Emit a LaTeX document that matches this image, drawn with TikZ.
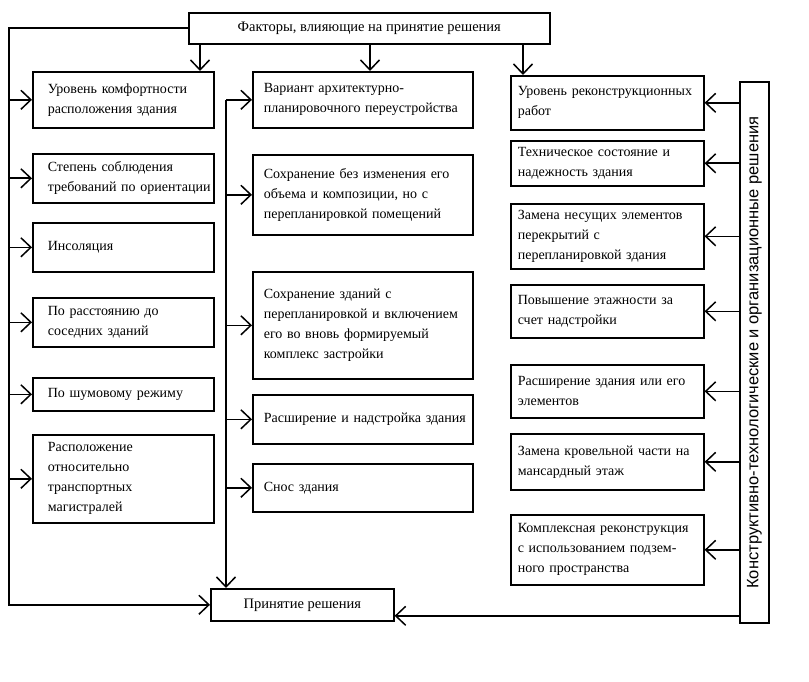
\documentclass[tikz,border=0pt]{standalone}
\usepackage{fontspec}
\setmainfont{Liberation Serif}
\newfontfamily\vsans{Liberation Sans}
\usetikzlibrary{arrows.meta,calc}
\newcommand\lbx[1]{\mbox{#1}}
\begin{document}
\begin{tikzpicture}[x=1pt,y=-1pt,line width=1.6pt,
  arr/.style={line width=1.6pt,-{Straight Barb[length=10pt,width=19pt,line width=1.5pt]}},
  box/.style={draw,line width=1.6pt,anchor=north west,align=left,
    font=\fontsize{14}{20}\selectfont,inner ysep=0pt},
  lbox/.style={box,minimum width=181pt,inner xsep=15pt,text width=151pt},
  mbox/.style={box,minimum width=220pt,inner xsep=11pt,text width=198pt},
  rbox/.style={box,minimum width=193pt,inner xsep=7pt,text width=179pt}]
\useasboundingbox (0,0) rectangle (809,682);
% top and bottom
\node[draw,line width=1.6pt,anchor=north west,minimum width=361pt,minimum height=31pt,
  font=\fontsize{14.5}{20}\selectfont] (top) at (188,12) {Факторы, влияющие на принятие решения};
\node[draw,line width=1.6pt,anchor=north west,minimum width=183pt,minimum height=32pt,
  font=\fontsize{14.5}{20}\selectfont] (dec) at (210,588) {Принятие решения};
\node[draw,line width=1.6pt,rotate=90,minimum width=541pt,minimum height=29pt,inner sep=0pt,
  font=\vsans\fontsize{16.5}{18}\selectfont] (vert) at (754.5,352.5) {Конструктивно-технологические и организационные решения};
% left column
\node[lbox,minimum height=56pt] (l1) at (32,71) {\lbx{Уровень комфортности}\\\lbx{расположения здания}};
\node[lbox,minimum height=49pt] (l2) at (32,153) {\lbx{Степень соблюдения}\\\lbx{требований по ориентации}};
\node[lbox,minimum height=49pt] (l3) at (32,222) {\lbx{Инсоляция}};
\node[lbox,minimum height=49pt] (l4) at (32,297) {\lbx{По расстоянию до}\\\lbx{соседних зданий}};
\node[lbox,minimum height=33pt] (l5) at (32,377) {\lbx{По шумовому режиму}};
\node[lbox,minimum height=88pt] (l6) at (32,434) {\lbx{Расположение}\\\lbx{относительно}\\\lbx{транспортных}\\\lbx{магистралей}};
% middle column
\node[mbox,minimum height=56pt] (m1) at (252,71) {\lbx{Вариант архитектурно-}\\\lbx{планировочного переустройства}};
\node[mbox,minimum height=80pt] (m2) at (252,154) {\lbx{Сохранение без изменения его}\\\lbx{объема и композиции, но с}\\\lbx{перепланировкой помещений}};
\node[mbox,minimum height=107pt] (m3) at (252,271) {\lbx{Сохранение зданий с}\\\lbx{перепланировкой и включением}\\\lbx{его во вновь формируемый}\\\lbx{комплекс застройки}};
\node[mbox,minimum height=49pt] (m4) at (252,394) {\lbx{Расширение и надстройка здания}};
\node[mbox,minimum height=48pt] (m5) at (252,463) {\lbx{Снос здания}};
% right column
\node[rbox,minimum height=54pt] (r1) at (510,75) {\lbx{Уровень реконструкционных}\\\lbx{работ}};
\node[rbox,minimum height=45pt] (r2) at (510,140) {\lbx{Техническое состояние и}\\\lbx{надежность здания}};
\node[rbox,minimum height=65pt] (r3) at (510,203) {\lbx{Замена несущих элементов}\\\lbx{перекрытий с}\\\lbx{перепланировкой здания}};
\node[rbox,minimum height=53pt] (r4) at (510,284) {\lbx{Повышение этажности за}\\\lbx{счет надстройки}};
\node[rbox,minimum height=53pt] (r5) at (510,364) {\lbx{Расширение здания или его}\\\lbx{элементов}};
\node[rbox,minimum height=56pt] (r6) at (510,433) {\lbx{Замена кровельной части на}\\\lbx{мансардный этаж}};
\node[rbox,minimum height=70pt] (r7) at (510,514) {\lbx{Комплексная реконструкция}\\\lbx{с использованием подзем-}\\\lbx{ного пространства}};
% trunks
\coordinate (lt) at (9,0);
\coordinate (mt) at (226,0);
\coordinate (t1) at (200,0);
\coordinate (t2) at (370,0);
\coordinate (t3) at (523,0);
\coordinate (rb) at ($(dec.east)+(0,11)$);
\draw[arr] (top.west) -| (lt |- dec.west) -- (dec.west);
\draw[arr] (t1 |- top.south) -- (t1 |- l1.north);
\draw[arr] (t2 |- top.south) -- (t2 |- m1.north);
\draw[arr] (t3 |- top.south) -- (t3 |- r1.north);
\foreach \n in {l1,l2,l3,l4,l5,l6} \draw[arr] (lt |- \n.west) -- (\n.west);
\draw[arr] (mt |- m1.west) -- (mt |- dec.north);
\foreach \n in {m1,m2,m3,m4,m5} \draw[arr] (mt |- \n.west) -- (\n.west);
\foreach \n in {r1,r2,r3,r4,r5,r6,r7} \draw[arr] (vert.north |- \n.east) -- (\n.east);
\draw[arr] (vert.north |- rb) -- (rb);
\end{tikzpicture}
\end{document}
